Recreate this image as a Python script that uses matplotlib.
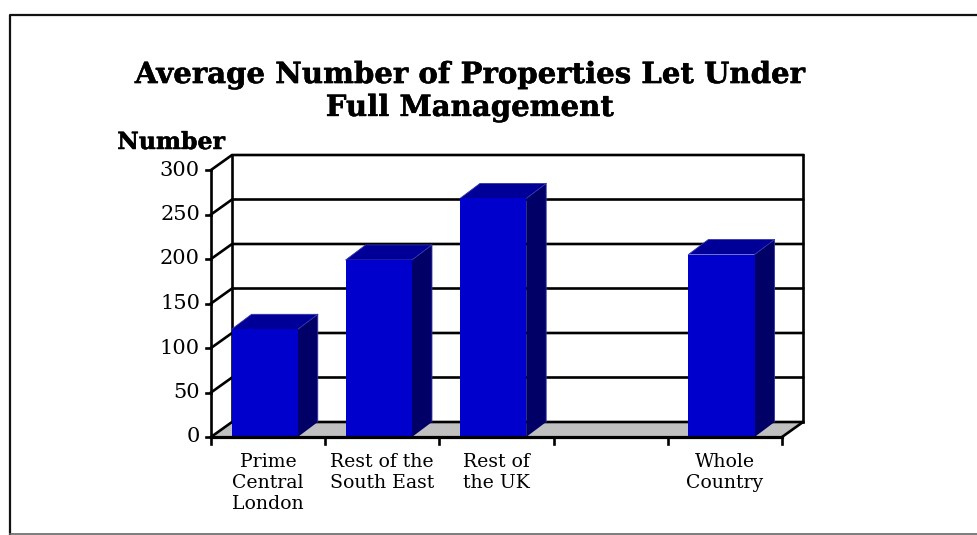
import matplotlib

matplotlib.use("Agg")

import matplotlib.patheffects as pe
import matplotlib.pyplot as plt
from matplotlib.patches import Polygon

CATEGORIES = [
    "Prime\nCentral\nLondon",
    "Rest of the\nSouth East",
    "Rest of\nthe UK",
    "",
    "Whole\nCountry",
]
VALUES = [121, 199, 268, None, 205]
Y_TICKS = [0, 50, 100, 150, 200, 250, 300]

WIDTH_PX = 977
HEIGHT_PX = 535

# 3D look: how far the back wall sits from the front plane, in axis units
DEPTH_X = 21 / 114
DEPTH_Y = 15 / (267 / 300)
BAR_WIDTH = 0.58
BAR_CENTER = 0.47

FRONT = "#0000cc"
TOP = "#000099"
SIDE = "#000066"
RIDGE = "#3333aa"
FLOOR = "#c0c0c0"
LW = 1.9

plt.rcParams["font.family"] = ["DejaVu Serif"]

# thin outline to thicken the bold headings
HEAVY = [pe.withStroke(linewidth=0.35, foreground="black")]


def main():
    fig = plt.figure(figsize=(WIDTH_PX / 100, HEIGHT_PX / 100), dpi=100)

    # Full-figure axes for the outer frame
    bg = fig.add_axes([0, 0, 1, 1])
    bg.set_xlim(0, WIDTH_PX)
    bg.set_ylim(HEIGHT_PX, 0)
    bg.axis("off")
    bg.plot([10, 10, WIDTH_PX], [HEIGHT_PX, 15, 15], color="#111111", lw=1.6)
    bg.plot([10, WIDTH_PX], [534, 534], color="#666666", lw=1.2)

    # Front plane of the chart: x 211-782, y 437-170 in pixels
    ax = fig.add_axes(
        [211 / WIDTH_PX, 1 - 437 / HEIGHT_PX, 571 / WIDTH_PX, 267 / HEIGHT_PX]
    )
    ax.set_xlim(0, len(CATEGORIES))
    ax.set_ylim(0, 300)
    ax.axis("off")

    n = len(CATEGORIES)

    ax.add_patch(
        Polygon(
            [(0, 0), (n, 0), (n + DEPTH_X, DEPTH_Y), (DEPTH_X, DEPTH_Y)],
            facecolor=FLOOR,
            edgecolor="none",
            clip_on=False,
            zorder=1,
        )
    )

    # Back wall gridlines with their slanted returns on the left side
    for v in Y_TICKS:
        ax.plot(
            [0, DEPTH_X, n + DEPTH_X],
            [v, v + DEPTH_Y, v + DEPTH_Y],
            color="black",
            lw=LW,
            clip_on=False,
            zorder=2,
        )
    for wall_x in [DEPTH_X, n + DEPTH_X]:
        ax.plot(
            [wall_x, wall_x],
            [DEPTH_Y, 300 + DEPTH_Y],
            color="black",
            lw=LW,
            clip_on=False,
            zorder=2,
        )
    ax.plot(
        [n, n + DEPTH_X],
        [0, DEPTH_Y],
        color="black",
        lw=LW,
        clip_on=False,
        zorder=2,
    )

    # Front axes and ticks
    ax.plot([0, 0], [0, 300], color="black", lw=LW, clip_on=False, zorder=2)
    ax.plot([0, n], [0, 0], color="black", lw=LW + 0.4, clip_on=False, zorder=5)
    for v in Y_TICKS:
        ax.plot(
            [-5 / 114, 0], [v, v], color="black", lw=LW, clip_on=False, zorder=2
        )
        ax.text(
            -11 / 114,
            v,
            str(v),
            ha="right",
            va="center",
            fontsize=15,
            clip_on=False,
        )
    for i in range(n + 1):
        ax.plot(
            [i, i], [0, -8], color="black", lw=LW, clip_on=False, zorder=2
        )

    for i, value in enumerate(VALUES):
        if value is None:
            continue
        x0 = i + BAR_CENTER - BAR_WIDTH / 2
        x1 = x0 + BAR_WIDTH
        dx = DEPTH_X * 0.95
        ax.add_patch(
            Polygon(
                [
                    (x1, 0),
                    (x1 + dx, DEPTH_Y),
                    (x1 + dx, value + DEPTH_Y),
                    (x1, value),
                ],
                facecolor=SIDE,
                edgecolor="none",
                clip_on=False,
                zorder=3,
            )
        )
        ax.add_patch(
            Polygon(
                [
                    (x0, value),
                    (x1, value),
                    (x1 + dx, value + DEPTH_Y),
                    (x0 + dx, value + DEPTH_Y),
                ],
                facecolor=TOP,
                edgecolor="none",
                clip_on=False,
                zorder=3,
            )
        )
        # lighter ridge along the top edges of the block
        ax.plot(
            [x0, x0 + dx, x1 + dx, x1 + dx],
            [value, value + DEPTH_Y, value + DEPTH_Y, DEPTH_Y],
            color=RIDGE,
            lw=0.6,
            clip_on=False,
            zorder=3,
        )
        ax.plot(
            [x1, x1 + dx],
            [value, value + DEPTH_Y],
            color=RIDGE,
            lw=0.6,
            clip_on=False,
            zorder=3,
        )
        ax.add_patch(
            Polygon(
                [(x0, 0), (x1, 0), (x1, value), (x0, value)],
                facecolor=FRONT,
                edgecolor="none",
                clip_on=False,
                zorder=4,
            )
        )

    # Category labels under each slot
    for i, label in enumerate(CATEGORIES):
        bg.text(
            211 + (i + 0.5) * 114.2,
            453,
            label,
            ha="center",
            va="top",
            fontsize=13.6,
            linespacing=1.22,
        )

    bg.text(
        470,
        91,
        "Average Number of Properties Let Under\nFull Management",
        ha="center",
        va="center",
        fontsize=21,
        fontweight="bold",
        linespacing=1.17,
        path_effects=HEAVY,
    )
    bg.text(
        171,
        142,
        "Number",
        ha="center",
        va="center",
        fontsize=17,
        fontweight="bold",
        path_effects=HEAVY,
    )

    fig.savefig("out.png", dpi=100)
    plt.close(fig)


if __name__ == "__main__":
    main()
